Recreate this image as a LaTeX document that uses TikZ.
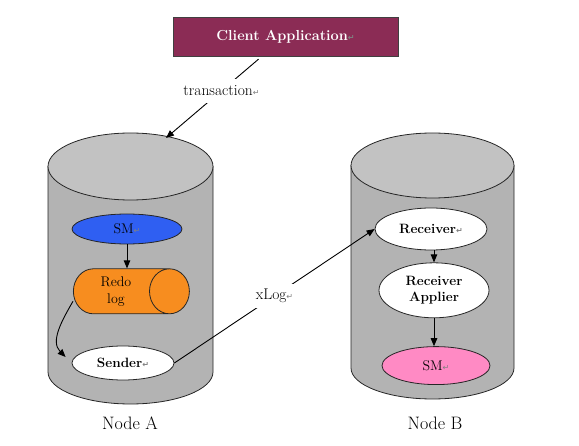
\documentclass[tikz,border=0pt]{standalone}
\usepackage{fontspec}
\newfontfamily\symfont{DejaVu Sans}
\usetikzlibrary{positioning, arrows.meta, shapes.geometric}
\definecolor{clientred}{HTML}{8B2C55}
\definecolor{cyltop}{HTML}{C2C2C2}
\definecolor{cylside}{HTML}{B3B3B3}
\definecolor{smblue}{HTML}{2F5FF2}
\definecolor{redoorange}{HTML}{F78D1F}
\definecolor{smpink}{HTML}{FF8AC4}
\newcommand{\retmark}{{\symfont\color{gray}\fontsize{8}{8}\selectfont ↵}}

\begin{document}
\begin{tikzpicture}
			[x=1pt, y=1pt, node distance=24pt,
			every node/.style={font=\fontsize{14}{16}\selectfont},
			arr/.style={-{Triangle[length=8pt,width=6.5pt]}, line width=.9pt},
			ell/.style={ellipse, draw=black!85, line width=.8pt, inner sep=1pt},
			bold/.style={font=\fontsize{13.5}{15.5}\selectfont\bfseries},
			lbl/.style={fill=white, inner xsep=1pt, inner ysep=7pt, font=\fontsize{15.5}{17}\selectfont},
			drum/.style={draw=black!85, line width=.8pt}]
			\useasboundingbox (0,0) rectangle (579,445);

			% drums %
			\filldraw[drum, fill=cylside] (48,278.5) -- (48,73) arc[start angle=180, end angle=360, x radius=82.5, y radius=32] -- (213,278.5) -- cycle;
			\filldraw[drum, fill=cyltop] (130.5,278.5) ellipse[x radius=82.5, y radius=33.5];
			\filldraw[drum, fill=cylside] (351,279.5) -- (351,77) arc[start angle=180, end angle=360, x radius=81.5, y radius=31] -- (514,279.5) -- cycle;
			\filldraw[drum, fill=cyltop] (432.5,279.5) ellipse[x radius=81.5, y radius=32.5];

			% nodes %
			\node[draw=black!75, fill=clientred, text=white, minimum width=225pt, minimum height=39pt, font=\fontsize{14.5}{17}\selectfont\bfseries] (client) at (285.5,408.5) {Client Application\retmark};
			\coordinate (topA) at (166,307);
			\node[ell, fill=smblue, minimum width=110pt, minimum height=30pt] (smA) at (127,216) {SM\retmark};
			\node[cylinder, draw=black!85, line width=.8pt, fill=redoorange, aspect=1.1, minimum width=45pt, minimum height=116pt, align=center, below=24pt of smA, xshift=-11pt, font=\fontsize{14}{17}\selectfont] (redo) {Redo\\log};
			\node[ell, bold, fill=white, minimum width=102pt, minimum height=34pt] (sender) at (123,82) {Sender\retmark};
			\node[ell, bold, fill=white, minimum width=112pt, minimum height=42pt] (recv) at (431,216) {Receiver\retmark};
			\node[ell, bold, fill=white, align=center, minimum width=110pt, minimum height=55pt, below=12pt of recv, xshift=3pt] (apply) {Receiver\\Applier};
			\node[ell, fill=smpink, minimum width=108pt, minimum height=38pt, below=28pt of apply, xshift=2pt] (smB) {SM\retmark};
			\node[font=\fontsize{18}{21}\selectfont] (nameA) at (130,22) {Node A};
			\node[font=\fontsize{18}{21}\selectfont] (nameB) at (435,22) {Node B};

			% edges %
			\draw[arr] ([xshift=-27pt,yshift=-3pt]client.south) -- node[lbl, pos=0.4] {transaction\retmark} (topA);
			\draw[arr] (smA.south) -- (smA.south |- redo.north);
			\draw[arr] ([yshift=-10pt]redo.west) to[out=-120, in=135] ([xshift=-6pt,yshift=6pt]sender.west);
			\draw[arr] (sender.east) -- node[lbl, inner ysep=5pt] {xLog\retmark} (recv.west);
			\draw[arr] (apply.north |- recv.south) -- (apply.north);
			\draw[arr] (apply.south) -- (apply.south |- smB.north);
\end{tikzpicture}
\end{document}
